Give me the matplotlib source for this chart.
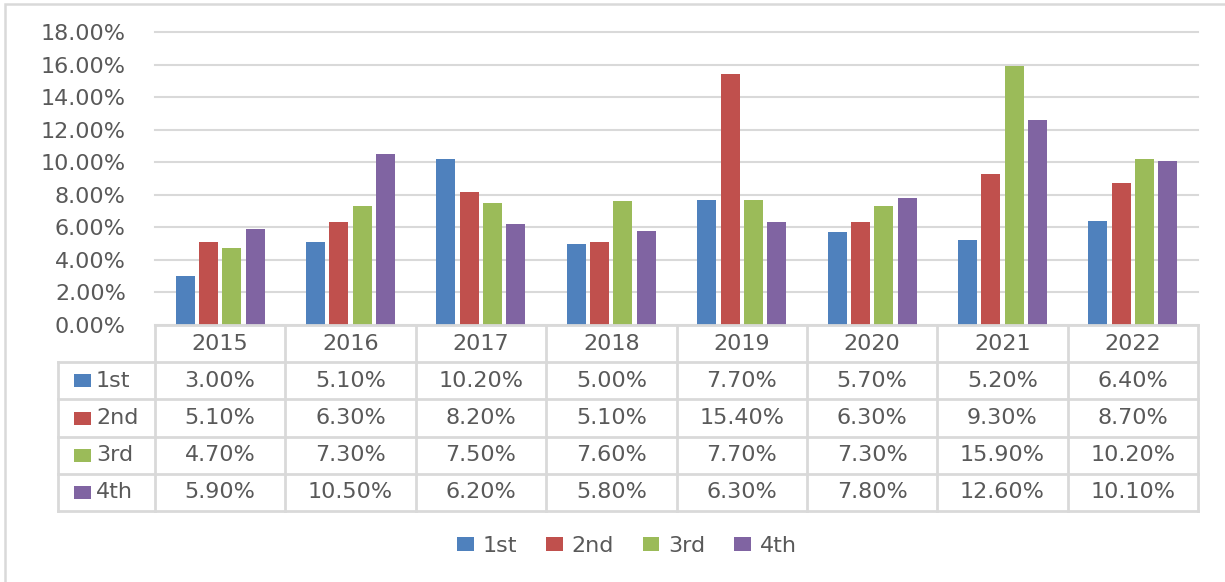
import matplotlib
matplotlib.use("Agg")
import matplotlib.pyplot as plt
from matplotlib.patches import Rectangle, Patch
import numpy as np

years = ["2015", "2016", "2017", "2018", "2019", "2020", "2021", "2022"]
series_names = ["1st", "2nd", "3rd", "4th"]
q1 = [3.0, 5.1, 10.2, 5.0, 7.7, 5.7, 5.2, 6.4]
q2 = [5.1, 6.3, 8.2, 5.1, 15.4, 6.3, 9.3, 8.7]
q3 = [4.7, 7.3, 7.5, 7.6, 7.7, 7.3, 15.9, 10.2]
q4 = [5.9, 10.5, 6.2, 5.8, 6.3, 7.8, 12.6, 10.1]
yticks = [0, 2, 4, 6, 8, 10, 12, 14, 16, 18]

series = [q1, q2, q3, q4]
colors = ["#4F81BD", "#C0504D", "#9BBB59", "#8064A2"]
txt = "#595959"
grid = "#D9D9D9"
fs = 16

W, H = 1225, 582
fig = plt.figure(figsize=(W / 100, H / 100), dpi=100)
fig.patch.set_facecolor("white")

def fx(px):
    return px / W

def fy(py):
    return 1 - py / H

# outer border
fig.patches.append(Rectangle((fx(5), -0.05), 1.2, fy(4) + 0.05, transform=fig.transFigure,
                             fill=False, edgecolor=grid, linewidth=1.8, zorder=0))

left, right, top, zero = 155, 1198, 32, 325
ax = fig.add_axes([fx(left), fy(zero), fx(right - left), (zero - top) / H])
n = len(years)
x = np.arange(n)
step = 0.179
bw = 0.146
for i, (vals, c) in enumerate(zip(series, colors)):
    ax.bar(x + (i - 1.5) * step, vals, width=bw, color=c, zorder=3)
ax.set_xlim(-0.5, n - 0.5)
ax.set_ylim(0, 18)
ax.set_yticks(yticks)
ax.set_yticklabels([f"{v:.2f}%" for v in yticks], color=txt, fontsize=fs)
ax.tick_params(axis="y", length=0, pad=21)
ax.set_xticks([])
for s in ax.spines.values():
    s.set_visible(False)
ax.grid(axis="y", color=grid, linewidth=1.5, zorder=0)
for gl in ax.get_ygridlines():
    gl.set_clip_on(False)
ax.set_axisbelow(True)

# data table
tleft, tbottom = 58, 511
px_unit = (right - left) / n
units_per_px = 1.0 / px_unit
row_px = (tbottom - zero) / 5.0
xmin = -0.5 - (left - tleft) * units_per_px
tax = fig.add_axes([fx(tleft), fy(tbottom), fx(right - tleft), (tbottom - zero) / H])
tax.set_xlim(xmin, n - 0.5)
tax.set_ylim(5, 0)
tax.axis("off")
lc = dict(color=grid, linewidth=2, clip_on=False)
tax.plot([-0.5, n - 0.5], [0, 0], **lc)
for r in range(1, 6):
    tax.plot([xmin, n - 0.5], [r, r], **lc)
for k in range(n + 1):
    tax.plot([k - 0.5, k - 0.5], [0, 5], **lc)
tax.plot([xmin, xmin], [1, 5], **lc)
for k, yr in enumerate(years):
    tax.text(k, 0.5, yr, ha="center", va="center", fontsize=fs, color=txt)
sq_w = 17 * units_per_px
sq_h = 13 / row_px
for r, (name, vals, c) in enumerate(zip(series_names, series, colors)):
    yy = r + 1.5
    tax.add_patch(Rectangle((xmin + 16 * units_per_px, yy - sq_h / 2), sq_w, sq_h,
                            facecolor=c, edgecolor="none", clip_on=False))
    tax.text(xmin + 38 * units_per_px, yy, name, ha="left", va="center", fontsize=fs, color=txt)
    for k, v in enumerate(vals):
        tax.text(k, yy, f"{v:.2f}%", ha="center", va="center", fontsize=fs, color=txt)

handles = [Patch(facecolor=c, label=nm) for nm, c in zip(series_names, colors)]
fig.legend(handles=handles, loc="center", bbox_to_anchor=(fx(627), fy(546)), ncol=4,
           frameon=False, fontsize=fs, labelcolor=txt, handlelength=0.75, handleheight=0.6,
           handletextpad=0.4, columnspacing=1.3)

fig.savefig("out.png", dpi=100, facecolor="white")
